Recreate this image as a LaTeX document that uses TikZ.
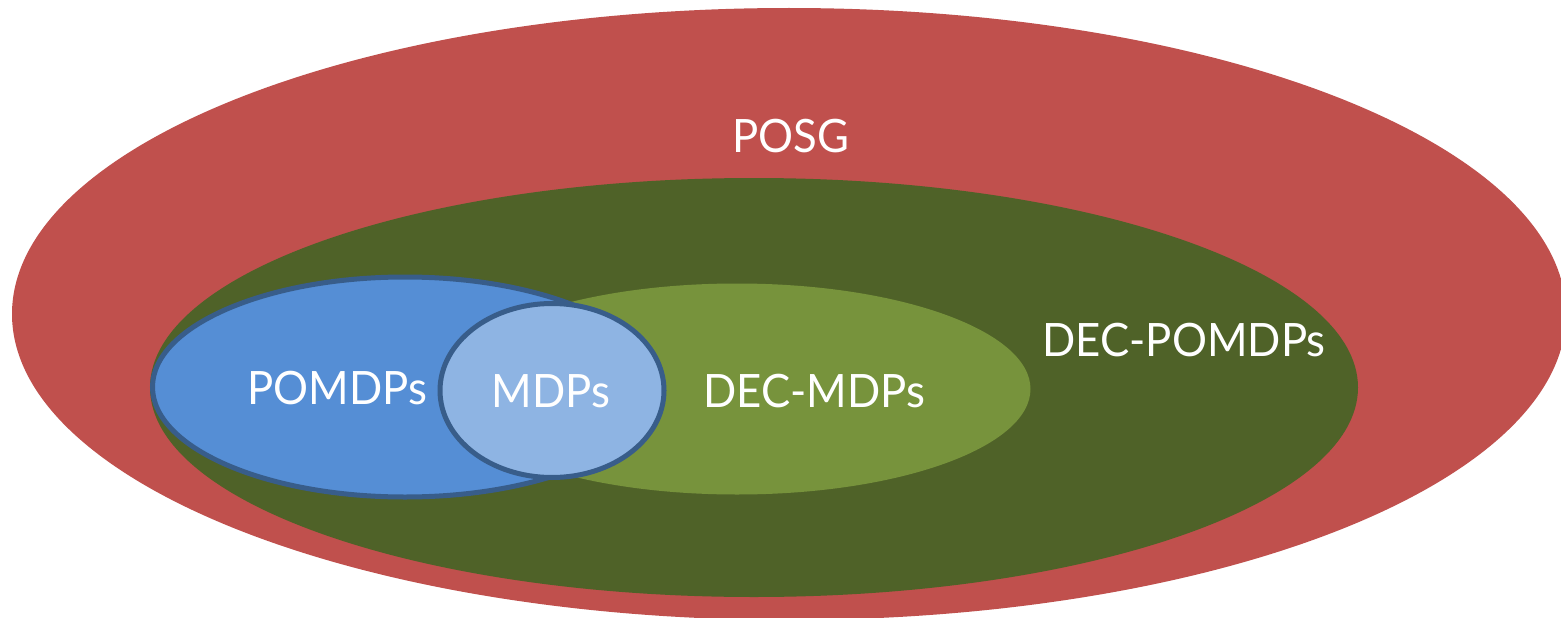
\documentclass[tikz,border=0pt]{standalone}
\usepackage{fontspec}
\setmainfont{Lato}
\usetikzlibrary{shapes.geometric}
\definecolor{posgred}{HTML}{C0504D}
\definecolor{decpomdpgreen}{HTML}{4F6228}
\definecolor{decmdpgreen}{HTML}{77933C}
\definecolor{pomdpblue}{HTML}{558ED5}
\definecolor{mdpblue}{HTML}{8EB4E3}
\definecolor{rimblue}{HTML}{385D8A}
\tikzset{
  setshape/.style={ellipse, inner sep=0pt, draw=none},
  rimmed/.style={draw=rimblue, line width=5pt},
  setlabel/.style={text=white, font=\fontsize{46}{50}\selectfont, inner sep=0pt,
    anchor=base, xscale=0.95, transform shape}
}
\begin{document}
\begin{tikzpicture}[x=1pt, y=-1pt]
  \useasboundingbox (0,0) rectangle (1561,618);
  \clip (0,0) rectangle (1561,618);
  \fill[white] (0,0) rectangle (1561,618);
  % nested problem classes
  \node[setshape, fill=posgred, minimum width=1554pt, minimum height=612pt] (posg) at (789,314) {};
  \node[setshape, fill=decpomdpgreen, minimum width=1208pt, minimum height=419pt] (decpomdp) at (754,387.5) {};
  \node[setshape, fill=decmdpgreen, minimum width=587pt, minimum height=211pt] (decmdp) at (737,389) {};
  \node[setshape, rimmed, fill=pomdpblue, minimum width=505pt, minimum height=220pt] (pomdp) at (405,387) {};
  \node[setshape, rimmed, fill=mdpblue, minimum width=224pt, minimum height=174pt] (mdp) at (552,390.5) {};
  % class names
  \node[setlabel] (posglabel) at (791,152) {POSG};
  \node[setlabel] (decpomdplabel) at (1184,356) {DEC-POMDPs};
  \node[setlabel] (pomdplabel) at (337,404) {POMDPs};
  \node[setlabel] (mdplabel) at (551,407) {MDPs};
  \node[setlabel] (decmdplabel) at (814,407) {DEC-MDPs};
\end{tikzpicture}
\end{document}
